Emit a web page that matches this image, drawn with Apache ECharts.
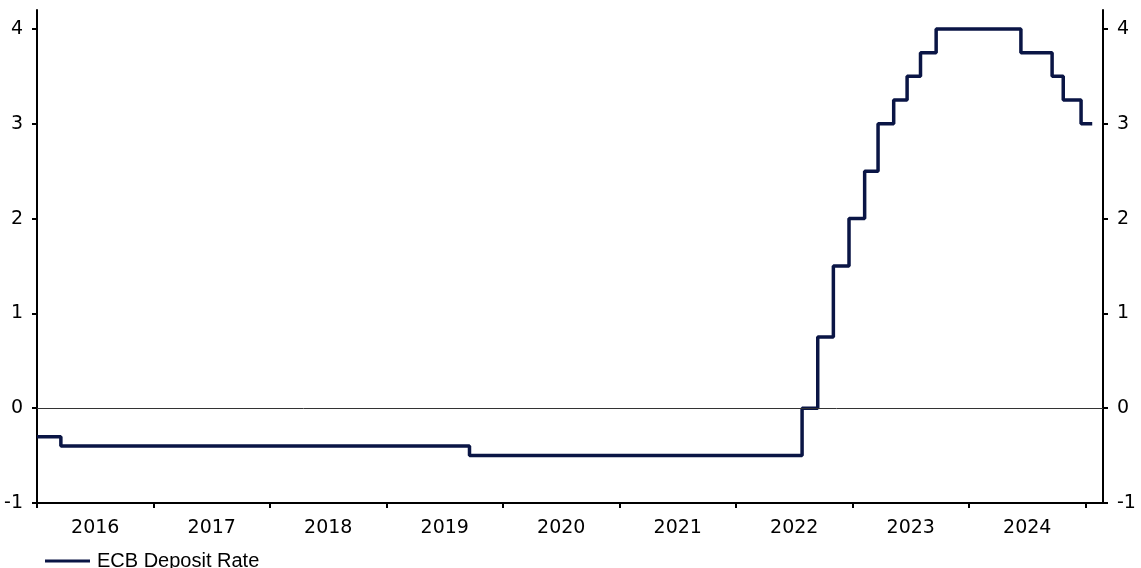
<!DOCTYPE html>
<html>
<head>
<meta charset="utf-8">
<script src="https://cdn.jsdelivr.net/npm/echarts@6/dist/echarts.min.js"></script>
<style>html,body{margin:0;padding:0;background:#fff}#c{width:1141px;height:568px}</style>
</head>
<body>
<div id="c"></div>
<script>
// ECB deposit facility rate: dates from which each rate applies
const changeDates = ['2016-01-01','2016-03-16','2019-09-18','2022-07-27','2022-09-14','2022-11-02','2022-12-21','2023-02-08','2023-03-22','2023-05-10','2023-06-21','2023-08-02','2023-09-20','2024-06-12','2024-09-18','2024-10-23','2024-12-18','2025-01-22'];
const rates = [-0.3,-0.4,-0.5,0,0.75,1.5,2,2.5,3,3.25,3.5,3.75,4,3.75,3.5,3.25,3,3];
const yearLabels = [2016,2017,2018,2019,2020,2021,2022,2023,2024];
const yTicks = [-1,0,1,2,3,4];
const seriesName = 'ECB Deposit Rate';

function toYearFrac(s){
  const d = new Date(s + 'T00:00:00Z');
  const y = d.getUTCFullYear();
  const start = Date.UTC(y,0,1), end = Date.UTC(y+1,0,1);
  return y + (d.getTime()-start)/(end-start);
}
const data = changeDates.map((d,i)=>[toYearFrac(d), rates[i]]);
const labelPos = yearLabels.map(y=>y+0.5);
const tickPos = yearLabels.map(y=>y).concat([2025]);

const font = 'DejaVu Sans, Verdana, sans-serif';
const navy = '#0a1545';
const chart = echarts.init(document.getElementById('c'), null, {renderer:'canvas'});
const yCommon = {
  type:'value', min:-1, max:4.2,
  axisLine:{show:true, lineStyle:{color:'#000', width:2}},
  axisTick:{show:true, length:5, lineStyle:{color:'#000', width:2}, customValues:yTicks},
  axisLabel:{color:'#000', fontFamily:font, fontSize:19, margin:14, customValues:yTicks},
  splitLine:{show:false}
};
chart.setOption({
  animation:false,
  grid:{left:37, right:38, top:10, bottom:65, containLabel:false},
  legend:{
    left:40, top:546, data:[seriesName],
    icon:'rect', itemWidth:45, itemHeight:3, itemGap:10,
    textStyle:{fontFamily:'Liberation Sans, Arial, sans-serif', fontSize:20, color:'#000', padding:[0,0,0,2]}
  },
  xAxis:{
    type:'value', min:2016, max:2025.15,
    axisLine:{show:true, onZero:false, lineStyle:{color:'#000', width:2}},
    axisTick:{show:true, length:5, lineStyle:{color:'#000', width:2}, customValues:tickPos},
    axisLabel:{color:'#000', fontFamily:font, fontSize:19, margin:16, customValues:labelPos,
      formatter:v=>String(Math.floor(v))},
    splitLine:{show:false}
  },
  yAxis:[
    Object.assign({}, yCommon, {position:'left'}),
    Object.assign({}, yCommon, {position:'right'})
  ],
  series:[{
    name:seriesName, type:'line', step:'end', data:data,
    showSymbol:false, symbol:'none',
    lineStyle:{color:navy, width:3.5},
    itemStyle:{color:navy},
    markLine:{
      silent:true, symbol:'none', label:{show:false},
      lineStyle:{color:'#333', width:1, type:'solid'},
      data:[{yAxis:0}]
    },
    z:3
  }]
});
</script>
</body>
</html>
